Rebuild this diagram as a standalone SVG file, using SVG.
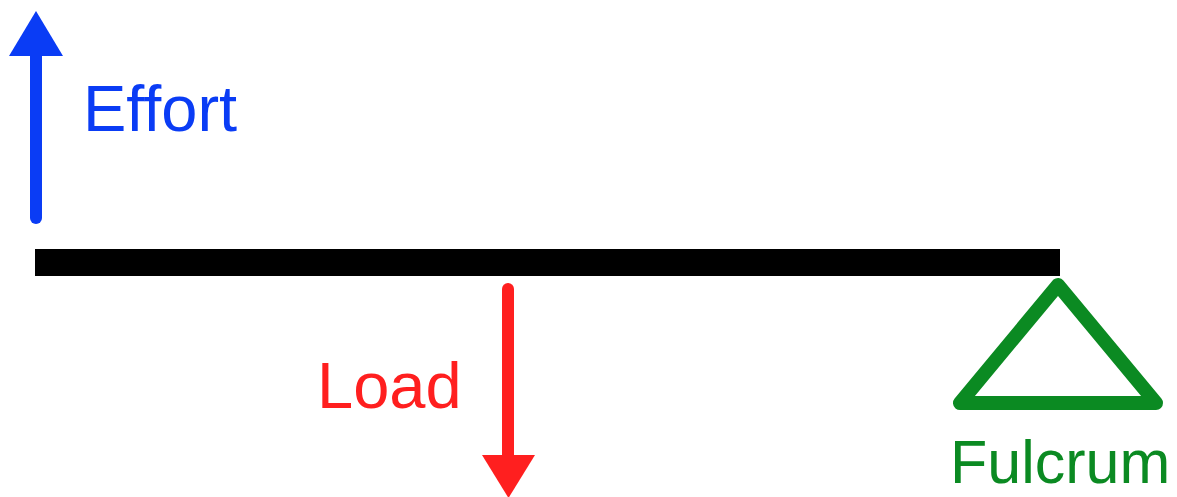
<svg xmlns="http://www.w3.org/2000/svg" width="1177" height="497" viewBox="0 0 1177 497">
  <style>
    .label { font-family: "Liberation Sans", Arial, sans-serif; }
    .effort { fill: #0a3cf5; }
    .load { fill: #ff1f1f; }
    .fulcrum { fill: #0b8a22; }
  </style>
  <rect width="1177" height="497" fill="#ffffff"/>

  <!-- lever bar -->
  <g id="lever">
    <rect x="35" y="249" width="1025" height="27" fill="#000000"/>
  </g>

  <!-- fulcrum support -->
  <g id="fulcrum">
    <polygon points="1058,285 960,403 1156,403" fill="none" stroke="#0b8a22" stroke-width="14" stroke-linejoin="round"/>
    <text class="label fulcrum" x="950" y="483" font-size="61">Fulcrum</text>
  </g>

  <!-- force arrows -->
  <g id="connectors">
    <g id="effort-arrow">
      <line x1="36" y1="218" x2="36" y2="52" stroke="#0a3cf5" stroke-width="12" stroke-linecap="round"/>
      <polygon points="36,11 63,56 9,56" fill="#0a3cf5"/>
    </g>
    <g id="load-arrow">
      <line x1="508" y1="289" x2="508" y2="460" stroke="#ff1f1f" stroke-width="12" stroke-linecap="round"/>
      <polygon points="482,455 535,455 508.5,498" fill="#ff1f1f"/>
    </g>
  </g>

  <g id="effort">
    <text class="label effort" x="83" y="131" font-size="65">Effort</text>
  </g>
  <g id="load">
    <text class="label load" x="317" y="408" font-size="65">Load</text>
  </g>
</svg>
